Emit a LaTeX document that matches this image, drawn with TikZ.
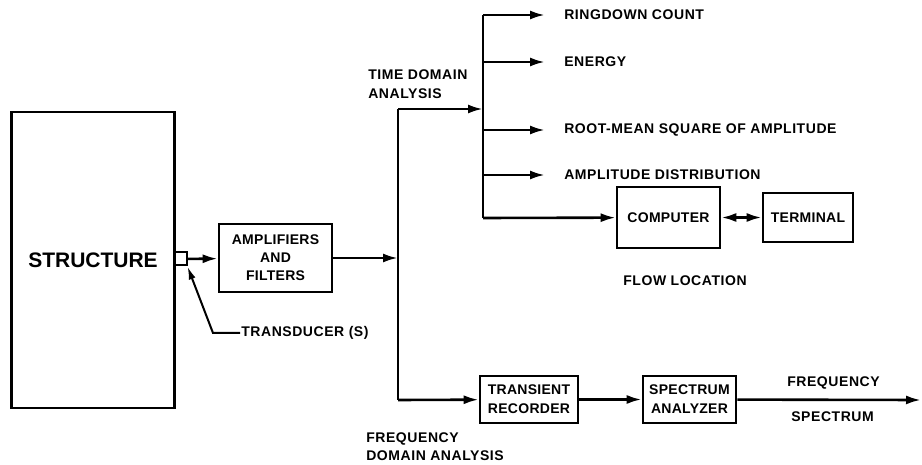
\documentclass[tikz,border=0pt]{standalone}
\usepackage{fontspec}
\setmainfont{Liberation Sans}
\usetikzlibrary{arrows.meta}
\tikzset{
blockbox/.style={
	  draw,line width=2.6pt,rectangle,align=center,
	    font=\bfseries\fontsize{14}{19}\selectfont\addfontfeature{LetterSpace=2}, inner sep=2pt},
lbl/.style={anchor=west,align=left,inner sep=0pt,
	    font=\bfseries\fontsize{14}{18.5}\selectfont\addfontfeature{LetterSpace=4}},
flow/.style={line width=2.6pt,->}
}

\begin{document}
\begin{tikzpicture}[x=1pt,y=-1pt,line width=2.6pt,>={Latex[length=15pt,width=9pt]}]
	\useasboundingbox (0,0) rectangle (922,465);
	\node[draw, minimum width=163pt, minimum height=296pt,
	  font=\bfseries\fontsize{21}{24}\selectfont] (struct) at (93,260) {STRUCTURE};
	\node[draw, minimum size=13pt, inner sep=0pt, line width=2pt] (xdcr) at (180,259) {};
	\node[blockbox, minimum width=113pt, minimum height=68pt] (amp) at (275.5,258)
	  {AMPLIFIERS\\[-1pt]AND\\[-1pt]FILTERS};
	\coordinate (split) at (398,258);
	\coordinate (tup) at (398,109);
	\coordinate (tdn) at (398,400);
	\coordinate (ttop) at (483,15);
	\coordinate (tmid) at (483,109);
	\coordinate (tbot) at (483,218);
	% time domain branches
	\node[blockbox, minimum width=103pt, minimum height=61pt] (comp) at (668.5,217.5) {COMPUTER};
	\node[blockbox, minimum width=90pt, minimum height=49pt] (term) at (808,217.5) {TERMINAL};
	\node[lbl, anchor=center] (flowloc) at (685,281) {FLOW LOCATION};
	\foreach \y/\name/\txt in {15/ring/RINGDOWN COUNT, 62/energy/ENERGY,
	    130/rms/ROOT-MEAN SQUARE OF AMPLITUDE, 175/dist/AMPLITUDE DISTRIBUTION}{
		\coordinate (\name) at (483,\y);
		\node[lbl] (\name-l) at (563,\y) {\txt};
		\draw[flow] (\name) -- (545,\y);
	}
	\node[lbl] (tda) at (367,84) {TIME DOMAIN\\ANALYSIS};
	% frequency domain
	\node[blockbox, minimum width=98pt, minimum height=47pt] (trans) at (529,399.5) {TRANSIENT\\RECORDER};
	\node[blockbox, minimum width=93pt, minimum height=47pt] (spec) at (689.5,399.5) {SPECTRUM\\ANALYZER};
	\coordinate (out) at (921,400);
	\node[lbl] (fs1) at (786,383) {FREQUENCY};
	\node[lbl] (fs2) at (790,417) {SPECTRUM};
	\node[lbl] (fda) at (365,446.5) {FREQUENCY\\DOMAIN ANALYSIS};
	% transducer lead
	\coordinate (bend) at (213,333);
	\node[lbl] (xdl) at (240,333) {TRANSDUCER (S)};
	% connectors
	\draw[flow] (xdcr) -- (amp);
	\draw[flow] (amp) -- (split);
	\draw (tup) -- (tdn);
	\draw[flow] (tup) -- (tmid);
	\draw (ttop) -- (tbot);
	\draw[flow] (tbot) -- (comp);
	\draw[<->] (comp) -- (term);
	\draw[flow] (tdn) -- (trans);
	\draw[flow] (trans) -- (spec);
	\draw[flow] (spec) -- (out);
	\draw[line width=2pt,-{Latex[length=13pt,width=7pt]}] (xdl.west) -- (bend) -- (xdcr.south east);
\end{tikzpicture}
\end{document}
